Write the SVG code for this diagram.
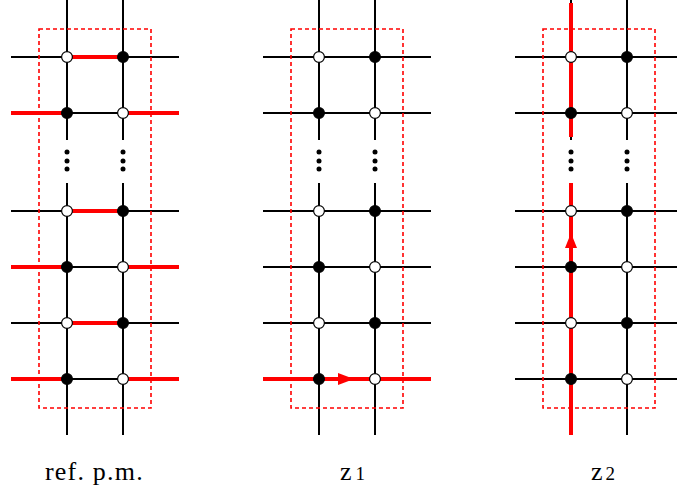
<svg xmlns="http://www.w3.org/2000/svg" width="677" height="493" viewBox="0 0 677 493">
<style>
.k{stroke:#000;stroke-width:2;fill:none}
.r{stroke:#f00;stroke-width:4;fill:none}
.box{stroke:#f00;stroke-width:1.6;stroke-dasharray:4 3;fill:none}
.o{fill:#fff;stroke:#000;stroke-width:1.2}
.f{fill:#000;stroke:#000;stroke-width:1.2}
.d{fill:#000}
.ah{fill:#f00}
.lbl{font-family:"Liberation Serif","Times New Roman",serif;font-size:26px;fill:#000}
.sub{font-size:19px}
</style>
<defs>
<g id="grid">
<path class="k" d="M67 0V140M67 183V435M123 0V140M123 183V435"/>
<path class="k" d="M11 57H179M11 113H179M11 211H179M11 267H179M11 323H179M11 379H179"/>
<circle class="d" cx="67" cy="152" r="2.5"/><circle class="d" cx="67" cy="161" r="2.5"/><circle class="d" cx="67" cy="169" r="2.5"/>
<circle class="d" cx="123" cy="152" r="2.5"/><circle class="d" cx="123" cy="161" r="2.5"/><circle class="d" cx="123" cy="169" r="2.5"/>
<rect class="box" x="39" y="29" width="112" height="379"/>
</g>
<g id="nodes">
<g id="n1a"><circle class="o" cx="67" cy="57" r="5.4"/></g>
<g id="n1b"><circle class="f" cx="123" cy="57" r="5.4"/></g>
<g id="n2a"><circle class="f" cx="67" cy="113" r="5.4"/></g>
<g id="n2b"><circle class="o" cx="123" cy="113" r="5.4"/></g>
<g id="n3a"><circle class="o" cx="67" cy="211" r="5.4"/></g>
<g id="n3b"><circle class="f" cx="123" cy="211" r="5.4"/></g>
<g id="n4a"><circle class="f" cx="67" cy="267" r="5.4"/></g>
<g id="n4b"><circle class="o" cx="123" cy="267" r="5.4"/></g>
<g id="n5a"><circle class="o" cx="67" cy="323" r="5.4"/></g>
<g id="n5b"><circle class="f" cx="123" cy="323" r="5.4"/></g>
<g id="n6a"><circle class="f" cx="67" cy="379" r="5.4"/></g>
<g id="n6b"><circle class="o" cx="123" cy="379" r="5.4"/></g>
</g>
</defs>

<g id="panel-ref">
<use href="#grid"/>
<g id="connectors-ref">
<path class="r" d="M67 57H123M11 113H67M123 113H179M67 211H123M11 267H67M123 267H179M67 323H123M11 379H67M123 379H179"/>
</g>
<use href="#nodes"/>
</g>

<g id="panel-z1" transform="translate(252,0)">
<use href="#grid"/>
<g id="connectors-z1">
<path class="r" d="M11 379H179"/>
<polygon class="ah" points="86,373 102,379 86,385"/>
</g>
<use href="#nodes"/>
</g>

<g id="panel-z2" transform="translate(504,0)">
<use href="#grid"/>
<g id="connectors-z2">
<path class="r" d="M67 3V137M67 183V435"/>
<polygon class="ah" points="61,248 67,233 73,248"/>
</g>
<use href="#nodes"/>
</g>

<g id="labels">
<text class="lbl" x="45" y="480" letter-spacing="1.2">ref. p.m.</text>
<text class="lbl" x="340" y="480">z<tspan class="sub" dx="4">1</tspan></text>
<text class="lbl" x="591" y="480">z<tspan class="sub" dx="3">2</tspan></text>
</g>
</svg>
